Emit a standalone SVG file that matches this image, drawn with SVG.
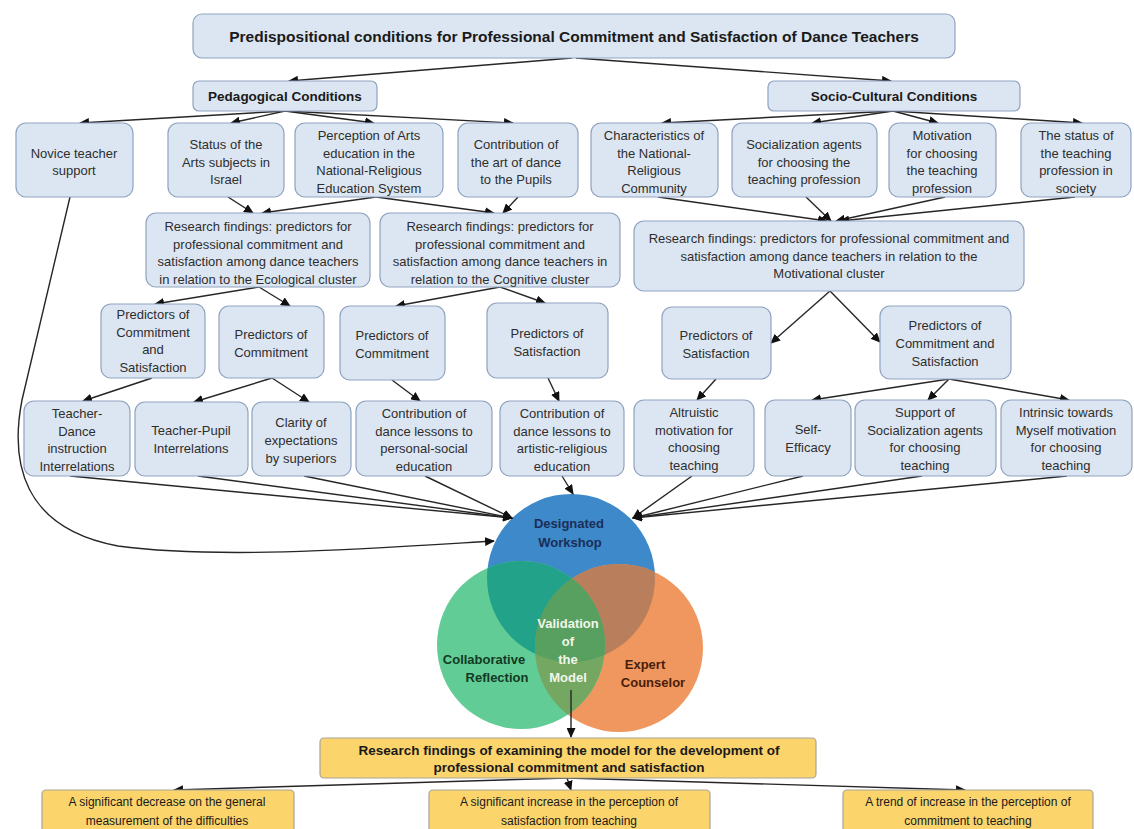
<svg xmlns="http://www.w3.org/2000/svg" width="1134" height="829" viewBox="0 0 1134 829">
  <style>
    text { font-family: "Liberation Sans", Arial, sans-serif; dominant-baseline: central; text-anchor: middle; }
    .box { fill: #dce6f2; stroke: #8fa3bf; stroke-width: 1.2; }
    .ybox { fill: #fbd46c; stroke: #a8a39a; stroke-width: 1.2; }
    .t { font-size: 13px; fill: #2e2e2e; }
    .h { font-size: 13.5px; font-weight: bold; fill: #1a1a1a; }
    .title { font-size: 15.5px; font-weight: bold; fill: #1a1a1a; }
    .yt { font-size: 13.5px; font-weight: bold; fill: #1a1a1a; }
    .yb { font-size: 12px; fill: #1a1a1a; }
    .vt { font-size: 13px; font-weight: bold; }
    .conn path { fill: none; stroke: #262626; stroke-width: 1.4; marker-end: url(#arr); }
  </style>
  <defs>
    <marker id="arr" markerUnits="userSpaceOnUse" markerWidth="10" markerHeight="9" refX="9" refY="4.5" orient="auto">
      <path d="M0,0 L10,4.5 L0,9 z" fill="#111111"/>
    </marker>
    <clipPath id="cBlue"><circle cx="571" cy="578" r="84"/></clipPath>
    <clipPath id="cGreen"><circle cx="521" cy="645" r="84"/></clipPath>
  </defs>
  <rect width="1134" height="829" fill="#ffffff"/>

  <!-- Venn of the intervention model -->
  <g id="venn">
    <circle cx="571" cy="578" r="84" fill="#3d89c9"/>
    <circle cx="619" cy="648" r="84" fill="#ef975e"/>
    <circle cx="521" cy="645" r="84" fill="#62cc96"/>
    <g clip-path="url(#cBlue)"><circle cx="521" cy="645" r="84" fill="#22a288"/></g>
    <g clip-path="url(#cBlue)"><circle cx="619" cy="648" r="84" fill="#b97f5c"/></g>
    <g clip-path="url(#cGreen)"><circle cx="619" cy="648" r="84" fill="#74a862"/></g>
    <g clip-path="url(#cBlue)"><g clip-path="url(#cGreen)"><circle cx="619" cy="648" r="84" fill="#57a060"/></g></g>
    <text class="vt" fill="#1b2e58"><tspan x="569" y="523">Designated</tspan><tspan x="570" y="542">Workshop</tspan></text>
    <text class="vt" fill="#f2f6ea"><tspan x="568" y="623">Validation</tspan><tspan x="568" y="641">of</tspan><tspan x="568" y="659">the</tspan><tspan x="568" y="677">Model</tspan></text>
    <text class="vt" fill="#123a22"><tspan x="484" y="659">Collaborative</tspan><tspan x="497" y="677">Reflection</tspan></text>
    <text class="vt" fill="#4a1d0a"><tspan x="645" y="664">Expert</tspan><tspan x="653" y="682">Counselor</tspan></text>
  </g>

  <!-- connectors -->
  <g class="conn" id="connectors">
    <path d="M572,58 L289,81"/>
    <path d="M576,58 L891,81"/>
    <path d="M285,111 L80,123"/>
    <path d="M285,111 L231,123"/>
    <path d="M285,111 L374,123"/>
    <path d="M285,111 L513,123"/>
    <path d="M893,111 L662,123"/>
    <path d="M893,111 L812,123"/>
    <path d="M893,111 L938,123"/>
    <path d="M893,111 L1082,123"/>
    <path d="M228,197 L253,213"/>
    <path d="M376,197 L262,213"/>
    <path d="M376,197 L494,213"/>
    <path d="M518,197 L503,213"/>
    <path d="M658,197 L827,221"/>
    <path d="M806,197 L831,221"/>
    <path d="M945,197 L836,221"/>
    <path d="M1075,197 L840,221"/>
    <path d="M259,287 L155,304"/>
    <path d="M259,287 L290,306"/>
    <path d="M500,287 L396,306"/>
    <path d="M500,287 L545,303"/>
    <path d="M830,291 L771,343"/>
    <path d="M830,291 L880,342"/>
    <path d="M152,378 L83,401"/>
    <path d="M272,378 L194,402"/>
    <path d="M272,378 L309,402"/>
    <path d="M392,380 L420,401"/>
    <path d="M548,378 L559,401"/>
    <path d="M716,379 L697,400"/>
    <path d="M949,379 L812,400"/>
    <path d="M949,379 L928,400"/>
    <path d="M949,379 L1069,400"/>
    <path d="M70,476 L512,518"/>
    <path d="M198,476 L512,518"/>
    <path d="M304,476 L512,518"/>
    <path d="M425,476 L512,518"/>
    <path d="M562,476 L573,494"/>
    <path d="M692,476 L633,518"/>
    <path d="M803,476 L633,518"/>
    <path d="M922,476 L633,518"/>
    <path d="M1067,476 L633,518"/>
    <path d="M70,197 L22,400 C10,462 22,528 118,546 C220,560 380,548 494,541"/>
    <path d="M571,690 L571,737"/>
    <path d="M567,778 L174,790"/>
    <path d="M567,778 L571,790"/>
    <path d="M567,778 L965,790"/>
  </g>

  <!-- header -->
  <g id="n-title">
    <rect class="box" x="193" y="14" width="762" height="44" rx="9"/>
    <text class="title" x="574" y="36">Predispositional conditions for Professional Commitment and Satisfaction of Dance Teachers</text>
  </g>
  <g id="n-pedagogical">
    <rect class="box" x="193" y="81" width="184" height="30" rx="6"/>
    <text class="h" x="285" y="96">Pedagogical Conditions</text>
  </g>
  <g id="n-sociocultural">
    <rect class="box" x="768" y="81" width="252" height="30" rx="6"/>
    <text class="h" x="894" y="96">Socio-Cultural Conditions</text>
  </g>

  <!-- conditions row -->
  <g id="n-novice">
    <rect class="box" x="16" y="123" width="117" height="74" rx="10"/>
    <text class="t"><tspan x="74" y="153">Novice teacher</tspan><tspan x="74" y="170">support</tspan></text>
  </g>
  <g id="n-arts-status">
    <rect class="box" x="168" y="123" width="116" height="74" rx="10"/>
    <text class="t"><tspan x="226" y="144">Status of the</tspan><tspan x="226" y="161.5">Arts subjects in</tspan><tspan x="226" y="179">Israel</tspan></text>
  </g>
  <g id="n-arts-perception">
    <rect class="box" x="295" y="123" width="148" height="74" rx="10"/>
    <text class="t"><tspan x="369" y="135">Perception of Arts</tspan><tspan x="369" y="152.5">education in the</tspan><tspan x="369" y="170">National-Religious</tspan><tspan x="369" y="187.5">Education System</tspan></text>
  </g>
  <g id="n-dance-contribution">
    <rect class="box" x="458" y="123" width="120" height="74" rx="10"/>
    <text class="t"><tspan x="516" y="144">Contribution of</tspan><tspan x="516" y="161.5">the art of dance</tspan><tspan x="516" y="179">to the  Pupils</tspan></text>
  </g>
  <g id="n-community">
    <rect class="box" x="591" y="123" width="127" height="74" rx="10"/>
    <text class="t"><tspan x="654" y="135">Characteristics of</tspan><tspan x="654" y="152.5">the National-</tspan><tspan x="654" y="170">Religious</tspan><tspan x="654" y="187.5">Community</tspan></text>
  </g>
  <g id="n-socialization">
    <rect class="box" x="732" y="123" width="145" height="74" rx="10"/>
    <text class="t"><tspan x="804" y="144">Socialization agents</tspan><tspan x="804" y="161.5">for choosing the</tspan><tspan x="804" y="179">teaching profession</tspan></text>
  </g>
  <g id="n-motivation">
    <rect class="box" x="889" y="123" width="107" height="74" rx="10"/>
    <text class="t"><tspan x="942" y="135">Motivation</tspan><tspan x="942" y="152.5">for choosing</tspan><tspan x="942" y="170">the teaching</tspan><tspan x="942" y="187.5">profession</tspan></text>
  </g>
  <g id="n-teaching-status">
    <rect class="box" x="1021" y="123" width="110" height="74" rx="10"/>
    <text class="t"><tspan x="1076" y="135">The status of</tspan><tspan x="1076" y="152.5">the teaching</tspan><tspan x="1076" y="170">profession in</tspan><tspan x="1076" y="187.5">society</tspan></text>
  </g>

  <!-- research findings row -->
  <g id="n-ecological">
    <rect class="box" x="146" y="213" width="224" height="74" rx="10"/>
    <text class="t"><tspan x="258" y="226">Research findings: predictors for</tspan><tspan x="258" y="243.5">professional commitment and</tspan><tspan x="258" y="261">satisfaction among dance teachers</tspan><tspan x="258" y="278.5">in relation to the Ecological cluster</tspan></text>
  </g>
  <g id="n-cognitive">
    <rect class="box" x="380" y="213" width="240" height="74" rx="10"/>
    <text class="t"><tspan x="500" y="226">Research findings: predictors for</tspan><tspan x="500" y="243.5">professional commitment and</tspan><tspan x="500" y="261">satisfaction among dance teachers in</tspan><tspan x="500" y="278.5">relation to the Cognitive cluster</tspan></text>
  </g>
  <g id="n-motivational">
    <rect class="box" x="634" y="221" width="390" height="70" rx="10"/>
    <text class="t"><tspan x="829" y="238">Research findings: predictors for professional commitment  and</tspan><tspan x="829" y="255.5">satisfaction among dance teachers in relation to the</tspan><tspan x="829" y="273">Motivational cluster</tspan></text>
  </g>

  <!-- predictors row -->
  <g id="n-eco-commit-satis">
    <rect class="box" x="101" y="304" width="104" height="74" rx="10"/>
    <text class="t"><tspan x="153" y="314">Predictors of</tspan><tspan x="153" y="331.5">Commitment</tspan><tspan x="153" y="349">and</tspan><tspan x="153" y="366.5">Satisfaction</tspan></text>
  </g>
  <g id="n-eco-commit">
    <rect class="box" x="219" y="306" width="105" height="72" rx="10"/>
    <text class="t"><tspan x="271" y="334">Predictors of</tspan><tspan x="271" y="352">Commitment</tspan></text>
  </g>
  <g id="n-cog-commit">
    <rect class="box" x="340" y="306" width="105" height="74" rx="10"/>
    <text class="t"><tspan x="392" y="335">Predictors of</tspan><tspan x="392" y="353">Commitment</tspan></text>
  </g>
  <g id="n-cog-satis">
    <rect class="box" x="487" y="303" width="121" height="75" rx="10"/>
    <text class="t"><tspan x="547" y="333">Predictors of</tspan><tspan x="547" y="351">Satisfaction</tspan></text>
  </g>
  <g id="n-mot-satis">
    <rect class="box" x="662" y="307" width="109" height="72" rx="10"/>
    <text class="t"><tspan x="716" y="335">Predictors of</tspan><tspan x="716" y="353">Satisfaction</tspan></text>
  </g>
  <g id="n-mot-commit-satis">
    <rect class="box" x="880" y="306" width="131" height="73" rx="10"/>
    <text class="t"><tspan x="945" y="325">Predictors of</tspan><tspan x="945" y="343">Commitment  and</tspan><tspan x="945" y="361">Satisfaction</tspan></text>
  </g>

  <!-- predictor items row -->
  <g id="n-teacher-dance">
    <rect class="box" x="24" y="401" width="106" height="75" rx="10"/>
    <text class="t"><tspan x="77" y="413">Teacher-</tspan><tspan x="77" y="430.5">Dance</tspan><tspan x="77" y="448">instruction</tspan><tspan x="77" y="465.5">Interrelations</tspan></text>
  </g>
  <g id="n-teacher-pupil">
    <rect class="box" x="135" y="402" width="113" height="74" rx="10"/>
    <text class="t"><tspan x="191" y="430">Teacher-Pupil</tspan><tspan x="191" y="447.5">Interrelations</tspan></text>
  </g>
  <g id="n-clarity">
    <rect class="box" x="252" y="402" width="99" height="74" rx="10"/>
    <text class="t"><tspan x="301" y="422">Clarity of</tspan><tspan x="301" y="440">expectations</tspan><tspan x="301" y="458">by superiors</tspan></text>
  </g>
  <g id="n-personal-social">
    <rect class="box" x="356" y="401" width="136" height="75" rx="10"/>
    <text class="t"><tspan x="424" y="413">Contribution of</tspan><tspan x="424" y="430.5">dance lessons to</tspan><tspan x="424" y="448">personal-social</tspan><tspan x="424" y="465.5">education</tspan></text>
  </g>
  <g id="n-artistic-religious">
    <rect class="box" x="500" y="401" width="124" height="75" rx="10"/>
    <text class="t"><tspan x="562" y="413">Contribution of</tspan><tspan x="562" y="430.5">dance lessons to</tspan><tspan x="562" y="448">artistic-religious</tspan><tspan x="562" y="465.5">education</tspan></text>
  </g>
  <g id="n-altruistic">
    <rect class="box" x="634" y="400" width="120" height="76" rx="10"/>
    <text class="t"><tspan x="694" y="412">Altruistic</tspan><tspan x="694" y="429.5">motivation for</tspan><tspan x="694" y="447">choosing</tspan><tspan x="694" y="464.5">teaching</tspan></text>
  </g>
  <g id="n-self-efficacy">
    <rect class="box" x="765" y="400" width="86" height="76" rx="10"/>
    <text class="t"><tspan x="808" y="429">Self-</tspan><tspan x="808" y="447">Efficacy</tspan></text>
  </g>
  <g id="n-support">
    <rect class="box" x="855" y="400" width="141" height="76" rx="10"/>
    <text class="t"><tspan x="925" y="412">Support of</tspan><tspan x="925" y="429.5">Socialization agents</tspan><tspan x="925" y="447">for choosing</tspan><tspan x="925" y="464.5">teaching</tspan></text>
  </g>
  <g id="n-intrinsic">
    <rect class="box" x="1001" y="400" width="131" height="76" rx="10"/>
    <text class="t"><tspan x="1066" y="412">Intrinsic towards</tspan><tspan x="1066" y="429.5">Myself motivation</tspan><tspan x="1066" y="447">for choosing</tspan><tspan x="1066" y="464.5">teaching</tspan></text>
  </g>

  <!-- outcomes -->
  <g id="n-model-findings">
    <rect class="ybox" x="320" y="738" width="496" height="40" rx="4"/>
    <text class="yt"><tspan x="569" y="750">Research findings of examining the model for the development of</tspan><tspan x="569" y="767">professional commitment and satisfaction</tspan></text>
  </g>
  <g id="n-difficulties">
    <rect class="ybox" x="42" y="790" width="252" height="46" rx="4"/>
    <text class="yb"><tspan x="167" y="802">A significant decrease on the  general</tspan><tspan x="167" y="821">measurement  of the difficulties</tspan></text>
  </g>
  <g id="n-satisfaction">
    <rect class="ybox" x="429" y="790" width="281" height="46" rx="4"/>
    <text class="yb"><tspan x="569" y="802">A significant increase in the perception of</tspan><tspan x="569" y="821">satisfaction from teaching</tspan></text>
  </g>
  <g id="n-commitment">
    <rect class="ybox" x="843" y="790" width="250" height="46" rx="4"/>
    <text class="yb"><tspan x="968" y="802">A trend of increase in the perception of</tspan><tspan x="968" y="821">commitment to teaching</tspan></text>
  </g>
</svg>
